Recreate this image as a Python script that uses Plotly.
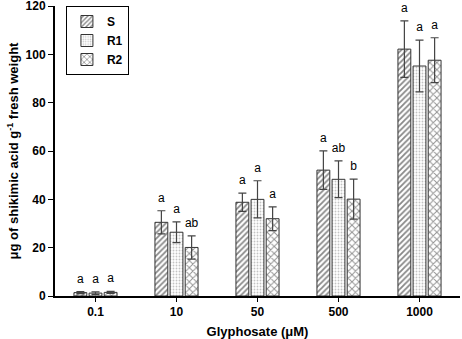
import plotly.graph_objects as go

categories = ["0.1", "10", "50", "500", "1000"]
series_names = ["S", "R1", "R2"]
S_vals = [1.4, 30.5, 38.8, 52.1, 102.2]
S_err = [0.4, 4.8, 3.8, 8.0, 11.7]
R1_vals = [1.2, 26.4, 40.0, 48.3, 95.2]
R1_err = [0.5, 4.3, 7.7, 7.6, 10.7]
R2_vals = [1.5, 20.1, 32.0, 40.1, 97.6]
R2_err = [0.4, 4.8, 4.9, 8.3, 9.3]
S_letters = ["a", "a", "a", "a", "a"]
R1_letters = ["a", "a", "a", "ab", "a"]
R2_letters = ["a", "ab", "a", "b", "a"]

vals = [S_vals, R1_vals, R2_vals]
errs = [S_err, R1_err, R2_err]
letters = [S_letters, R1_letters, R2_letters]
patterns = [dict(shape="/", fgcolor="#111", bgcolor="white", size=4, solidity=0.45),
            dict(shape=".", fgcolor="#888", bgcolor="white", size=3, solidity=0.3),
            dict(shape="x", fgcolor="#222", bgcolor="white", size=5, solidity=0.35)]

fig = go.Figure()
for i, name in enumerate(series_names):
    fig.add_trace(go.Bar(
        x=categories, y=vals[i], name=name, offsetgroup=str(i),
        marker=dict(color="white", pattern=patterns[i],
                    line=dict(color="#333", width=1)),
        error_y=dict(type="data", array=errs[i], color="#444", thickness=1.2, width=4),
    ))
for i, name in enumerate(series_names):
    fig.add_trace(go.Scatter(
        x=categories, y=[v + e for v, e in zip(vals[i], errs[i])],
        mode="markers+text", text=letters[i], textposition="top center",
        marker=dict(size=8, color="rgba(0,0,0,0)"),
        textfont=dict(family="Liberation Sans, Arial", size=12, color="black"),
        offsetgroup=str(i), showlegend=False, cliponaxis=False, hoverinfo="skip",
    ))

fig.update_layout(
    width=462, height=339,
    margin=dict(l=55, r=2, t=6, b=43, autoexpand=False),
    plot_bgcolor="white", paper_bgcolor="white",
    barmode="group", bargap=0.44, bargroupgap=0.15,
    scattermode="group", scattergap=0.44,
    font=dict(family="Liberation Sans, Arial", color="black"),
    legend=dict(x=0.027, y=1.0, xanchor="left", yanchor="top",
                bordercolor="black", borderwidth=1, bgcolor="white",
                font=dict(size=12, family="Liberation Sans, Arial", weight="bold"),
                tracegroupgap=0, itemwidth=30),
    showlegend=True,
)
fig.update_xaxes(
    type="category", range=[-0.5, 4.5], automargin=False,
    showline=True, linecolor="black", linewidth=2,
    ticks="outside", ticklen=4, tickcolor="black", tickwidth=1,
    tickfont=dict(size=12, weight="bold"),
    title=dict(text="Glyphosate (μM)", font=dict(size=13, weight="bold"), standoff=8),
    showgrid=False,
)
fig.update_yaxes(
    range=[0, 120.05], dtick=20, automargin=False, ticklabeloverflow="allow",
    showline=True, linecolor="black", linewidth=2,
    ticks="outside", ticklen=5, tickcolor="black", tickwidth=1,
    tickfont=dict(size=12, weight="bold"),
    title=dict(text="μg of shikimic acid g<sup>-1</sup> fresh weight",
               font=dict(size=13, weight="bold"), standoff=4),
    showgrid=False, zeroline=False,
)
fig.write_html("out.html", config={"displayModeBar": False},
               post_script="document.body.style.margin='0';document.body.style.overflow='hidden';")
